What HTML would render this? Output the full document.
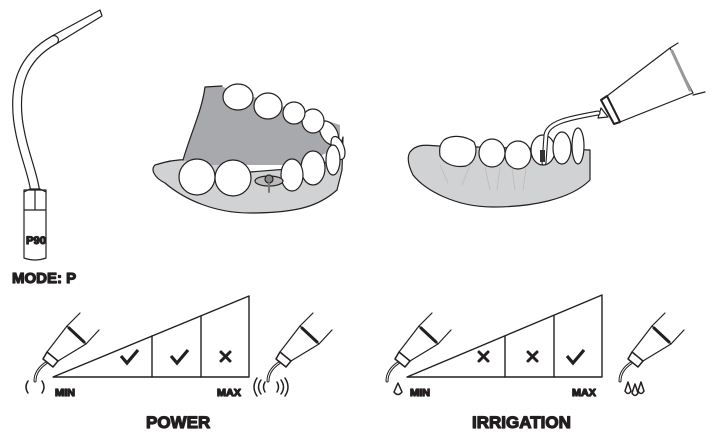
<!DOCTYPE html>
<html><head><style>
html,body{margin:0;padding:0;background:#fff;width:721px;height:447px;overflow:hidden}
text{font-family:"Liberation Sans",sans-serif;font-weight:bold;fill:#231f20}
</style></head><body>
<svg width="721" height="447" viewBox="0 0 721 447" xmlns="http://www.w3.org/2000/svg" fill="none" stroke="#231f20" stroke-width="1.2" stroke-linejoin="round" stroke-linecap="round">
<defs>
<g id="hp">
  <line x1="80" y1="313" x2="67" y2="326"/>
  <line x1="99" y1="330" x2="86" y2="344"/>
  <path d="M67 326 L86 344 L58 361 L47 352 Z" fill="#fff"/>
  <path d="M69 328 L84 342" stroke-width="3"/>
  <path d="M47 352 L58 361 L53 367 L43 359 Z" fill="#fff" stroke-width="1.5"/>
  <path d="M46 363 C40 367 35 373 35 381" stroke-width="3"/>
  <path d="M46 363 C40 367 35 373 35 381" stroke="#fff" stroke-width="1"/>
</g>
</defs>

<!-- P90 tip -->
<path d="M100 10 L52 36 L56 44 L102 16 Z" fill="#fff"/>
<path d="M54 40 C22 58 14 85 18 120 C22 150 32 170 35 190" stroke="#231f20" stroke-width="10"/>
<path d="M54 40 C22 58 14 85 18 120 C22 150 32 170 35 190" stroke="#fff" stroke-width="7.6"/>
<path d="M24 190 L46 190 L46 258 Q35 262 24 258 Z" fill="#fff"/>
<path d="M24 192 L30 189 L40 189 L46 192 M24 210 L46 210 M35 190 L35 210"/>
<text x="26" y="244" font-size="11" textLength="20" lengthAdjust="spacingAndGlyphs">P90</text>

<text x="12" y="283" font-size="15">MODE: P</text>

<!-- Left jaw -->
<path d="M155 165 C200 150 230 170 250 172 L300 168 L337 160 L343 137 L342 170 L337 190 C320 205 300 213 250 213 C215 213 185 200 165 183 C155 178 150 170 155 165 Z" fill="#d1d2d4"/>
<path d="M205 87 L220 86 L340 125 L340 147 L300 165 L200 165 L183 160 C192 130 202 110 205 87 Z" fill="#a7a9ac" stroke="none"/>
<path d="M183 160 C192 130 202 110 205 87 L222 86"/>
<g fill="#fff">
<ellipse cx="329" cy="133" rx="8" ry="13" transform="rotate(-30 329 133)"/>
<ellipse cx="338" cy="148" rx="6" ry="12" transform="rotate(-20 338 148)"/>
<ellipse cx="313" cy="121" rx="11" ry="12"/>
<ellipse cx="294" cy="113" rx="11" ry="11"/>
<ellipse cx="268" cy="106" rx="14" ry="13"/>
<ellipse cx="238" cy="97" rx="15" ry="13"/>
<ellipse cx="333" cy="160" rx="7" ry="15"/>
<ellipse cx="313" cy="168" rx="12" ry="17"/>
<ellipse cx="292" cy="175" rx="11" ry="16"/>
<ellipse cx="233" cy="178" rx="18" ry="18"/>
<ellipse cx="197" cy="177" rx="18" ry="18"/>
</g>
<ellipse cx="269" cy="181" rx="14" ry="5" fill="#bbb"/>
<circle cx="269" cy="179" r="4" fill="#888"/>
<line x1="269" y1="183" x2="269" y2="192" stroke="#777" stroke-width="2"/>

<!-- Right jaw -->
<path d="M410 152 C418 142 430 146 440 146 L590 150 L590 180 C570 200 530 207 493 207 C455 207 425 190 413 175 C408 165 407 157 410 152 Z" fill="#d1d2d4"/>
<g fill="#fff">
<path d="M444 140 C452 134 466 136 474 142 C478 150 476 162 466 166 C455 168 444 164 440 156 C439 148 440 144 444 140 Z"/>
<ellipse cx="492" cy="153" rx="13" ry="14"/>
<ellipse cx="518" cy="155" rx="13" ry="14"/>
<ellipse cx="543" cy="150" rx="12" ry="15"/>
<ellipse cx="562" cy="148" rx="9" ry="16"/>
<ellipse cx="578" cy="146" rx="6" ry="18"/>
</g>
<g stroke="#bbb" stroke-width="0.8">
<path d="M440 165 L448 183 M470 165 L462 185 M485 167 L490 190 M500 167 L497 190 M512 168 L515 190 M526 168 L523 190"/>
</g>
<path d="M607 96 L670 48 L693 93 L620 122 Z" fill="#fff"/>
<path d="M670 48 L678 43 M693 95 L705 92"/>
<path d="M672 51 L690 90" stroke="#999" stroke-width="3"/>
<path d="M607 96 L620 122 L614 124 L601 100 Z" fill="#fff" stroke-width="2"/>
<path d="M601 108 L608 117 L598 118 Z" fill="#fff"/>
<path d="M598 113 C570 118 548 122 546 135 L544 163" stroke-width="5"/>
<path d="M598 113 C570 118 548 122 546 135 L544 163" stroke="#fff" stroke-width="2.8"/>
<rect x="540" y="150" width="5" height="12" fill="#333" stroke="none"/>

<!-- Power chart -->
<path d="M53 377 L249 296 L249 377 Z" fill="#fff" stroke-width="1.4"/>
<line x1="152" y1="336" x2="152" y2="377" stroke-width="1.4"/>
<line x1="201" y1="316" x2="201" y2="377" stroke-width="1.4"/>
<path d="M121 356 L127 363 L138 350" stroke-width="3.2" stroke-linecap="butt" stroke-linejoin="miter"/>
<path d="M171 356 L177 363 L188 350" stroke-width="3.2" stroke-linecap="butt" stroke-linejoin="miter"/>
<path d="M221 352 L230 361 M230 352 L221 361" stroke-width="3"/>
<text x="55" y="396" font-size="10" textLength="20" lengthAdjust="spacingAndGlyphs">MIN</text>
<text x="217" y="396" font-size="10" textLength="24" lengthAdjust="spacingAndGlyphs">MAX</text>
<text x="146" y="428" font-size="17">POWER</text>
<use href="#hp"/>
<path d="M28 381 Q24 387 28 393 M42 381 Q46 387 42 393" stroke-width="1.5"/>
<use href="#hp" transform="translate(233,0)"/>
<path d="M261 380 Q256 387 261 394 M265 382 Q262 387 265 392 M277 382 Q280 387 277 392 M281 380 Q286 387 281 394 M257 378 Q251 387 257 396 M285 378 Q291 387 285 396" stroke-width="1.5"/>

<!-- Irrigation chart -->
<path d="M407 377 L602 295 L602 377 Z" fill="#fff" stroke-width="1.4"/>
<line x1="505" y1="336" x2="505" y2="377" stroke-width="1.4"/>
<line x1="554" y1="316" x2="554" y2="377" stroke-width="1.4"/>
<path d="M479 352 L488 361 M488 352 L479 361" stroke-width="3"/>
<path d="M528 352 L537 361 M537 352 L528 361" stroke-width="3"/>
<path d="M567 356 L573 363 L584 350" stroke-width="3.2" stroke-linecap="butt" stroke-linejoin="miter"/>
<text x="410" y="396" font-size="10" textLength="20" lengthAdjust="spacingAndGlyphs">MIN</text>
<text x="572" y="396" font-size="10" textLength="24" lengthAdjust="spacingAndGlyphs">MAX</text>
<text x="472" y="428" font-size="17">IRRIGATION</text>
<use href="#hp" transform="translate(352,0)"/>
<path d="M398 383 L394 392 Q398 397 402 392 Z" stroke-width="1.5"/>
<use href="#hp" transform="translate(585,0)"/>
<path d="M628 382 L625 391 Q628 396 631 391 Z M635 384 L632 393 Q635 398 638 393 Z M641 382 L638 391 Q641 396 644 391 Z" stroke-width="1.5"/>
</svg>
</body></html>
